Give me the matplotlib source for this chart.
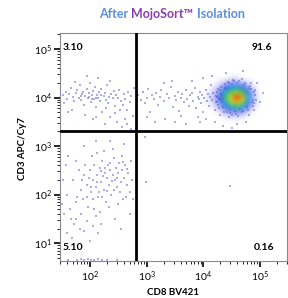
import numpy as np
import matplotlib
matplotlib.use("Agg")
import matplotlib.pyplot as plt
from matplotlib.colors import LinearSegmentedColormap
from matplotlib.offsetbox import TextArea, HPacker, AnchoredOffsetbox

# ── data (log10 units) ────────────────────────────────────────────────
# upper-left quadrant events (CD3+ CD8-)
ul_x = [1.52, 1.58, 1.60, 1.63, 1.66, 1.70, 1.72, 1.75, 1.77, 1.80, 1.82, 1.84, 1.86, 1.88,
        1.90, 1.92, 1.94, 1.96, 1.98, 2.00, 2.02, 2.03, 2.05, 2.07, 2.09, 2.10, 2.12, 2.14,
        2.16, 2.18, 2.20, 2.22, 2.24, 2.26, 2.28, 2.30, 2.32, 2.34, 2.36, 2.38, 2.40, 2.42,
        2.44, 2.46, 2.48, 2.50, 2.52, 2.55, 2.57, 2.60, 2.62, 2.65, 2.68, 2.70, 2.73, 2.76,
        2.78, 1.55, 1.68, 1.74, 1.92, 2.06, 2.15, 2.27, 2.35, 2.45, 2.58, 2.66, 2.72, 1.62,
        1.95, 2.11, 2.29, 2.53, 2.61, 2.10, 1.98, 2.19, 2.04, 1.85]
ul_y = [4.05, 4.12, 3.98, 4.08, 4.20, 4.02, 3.92, 4.10, 4.15, 4.00, 4.25, 3.95, 4.07, 4.12,
        3.85, 4.03, 4.18, 3.99, 4.09, 4.30, 3.90, 4.05, 4.14, 3.97, 4.22, 3.80, 4.06, 4.00,
        4.11, 3.93, 4.17, 3.70, 4.04, 4.10, 3.96, 4.26, 3.88, 4.02, 3.60, 4.08, 3.99, 4.13,
        3.82, 4.05, 3.50, 4.00, 4.15, 3.92, 3.40, 4.07, 3.97, 3.75, 4.11, 3.90, 4.03, 3.62,
        4.20, 3.88, 3.75, 4.32, 3.65, 3.55, 4.40, 3.45, 4.35, 3.68, 3.85, 3.45, 3.35, 3.70,
        4.45, 3.60, 3.78, 3.75, 3.55, 4.00, 4.02, 4.06, 3.98, 4.03]

# upper-right quadrant events outside the dense core (CD3+ CD8+)
ur_x = [2.85, 2.90, 2.93, 2.97, 3.00, 3.03, 3.06, 3.10, 3.13, 3.16, 3.20, 3.23, 3.26, 3.30,
        3.33, 3.36, 3.40, 3.43, 3.46, 3.50, 3.52, 3.55, 3.58, 3.60, 3.63, 3.66, 3.69, 3.72,
        3.74, 3.77, 3.80, 3.82, 3.85, 3.87, 3.90, 3.92, 3.94, 3.96, 3.98, 4.00, 4.02, 4.04,
        4.06, 4.08, 4.10, 4.12, 4.14, 4.16, 4.18, 4.20, 4.22, 4.24, 4.26, 4.28, 4.30, 4.32,
        3.00, 3.30, 3.50, 3.70, 3.90, 4.05, 4.20, 4.35, 4.50, 4.60, 4.75, 3.15, 3.45, 3.80,
        4.00, 4.15, 4.95, 5.00, 5.05, 4.40, 4.70, 3.60, 3.95, 4.45, 4.35, 4.38, 4.42, 4.45,
        4.50, 4.55, 4.62, 4.68, 4.80, 4.85, 4.90, 4.92, 4.88, 4.30, 4.33, 4.37]
ur_y = [4.05, 3.95, 4.12, 3.88, 4.00, 4.18, 3.70, 4.06, 3.97, 4.10, 3.85, 4.02, 4.15, 3.93,
        3.55, 4.08, 3.99, 4.22, 3.80, 4.04, 3.95, 4.12, 3.72, 4.00, 4.07, 3.90, 4.16, 3.98,
        3.83, 4.05, 4.10, 3.93, 4.20, 3.78, 4.02, 3.97, 4.12, 3.88, 4.06, 3.70, 4.00, 4.15,
        3.92, 4.08, 3.82, 4.02, 4.25, 3.95, 4.10, 3.75, 4.04, 3.90, 4.18, 3.98, 3.65, 4.08,
        3.60, 4.30, 3.50, 3.45, 3.60, 3.55, 3.50, 3.42, 3.38, 3.45, 3.50, 3.50, 4.35, 4.35,
        4.40, 4.45, 4.30, 3.90, 4.10, 4.50, 4.55, 3.62, 3.50, 3.60, 3.80, 4.20, 3.70, 4.30,
        3.65, 4.35, 3.62, 4.38, 3.65, 4.30, 3.75, 4.15, 3.95, 4.00, 3.90, 4.10]

# speckled events on the rim of the dense core
rim_x = [4.22, 4.25, 4.28, 4.31, 4.34, 4.36, 4.39, 4.41, 4.44, 4.47, 4.52, 4.57, 4.63, 4.69,
         4.74, 4.79, 4.83, 4.87, 4.91, 4.93, 4.24, 4.29, 4.33, 4.40, 4.48, 4.56, 4.64, 4.72,
         4.78, 4.84, 4.89, 4.26, 4.30, 4.35, 4.90, 4.86, 4.80, 4.50, 4.60, 4.70]
rim_y = [3.90, 4.12, 3.78, 4.22, 3.95, 3.70, 4.28, 3.86, 4.32, 3.68, 4.36, 3.66, 4.34, 3.70,
         4.30, 3.74, 4.24, 3.82, 4.06, 3.96, 4.02, 3.94, 4.06, 4.18, 3.75, 3.72, 3.76, 4.26,
         3.80, 4.18, 3.88, 3.85, 4.15, 3.98, 4.12, 3.90, 4.20, 4.28, 4.30, 3.72]

# lower-left quadrant events (CD3- CD8-)
ll_x = [1.90, 1.95, 2.00, 2.02, 2.05, 2.08, 2.10, 2.12, 2.15, 2.17, 2.20, 2.22, 2.24, 2.26,
        2.28, 2.30, 2.32, 2.34, 2.36, 2.38, 2.40, 2.42, 2.44, 2.46, 2.48, 2.50, 2.52, 2.54,
        2.56, 2.58, 2.60, 2.62, 2.65, 2.68, 2.70, 1.85, 1.88, 1.92, 1.97, 2.03, 2.07, 2.13,
        2.18, 2.25, 2.33, 2.40, 2.50, 2.57, 2.63, 2.72, 2.75, 1.60, 1.65, 1.70, 1.75, 1.78,
        1.80, 1.82, 1.55, 1.60, 1.68, 1.72, 1.85, 1.90, 1.95, 2.00, 2.05, 2.10, 2.15, 2.20,
        1.52, 1.58, 1.62, 1.75, 1.90, 2.10, 2.35, 2.60, 2.45, 2.55, 2.70, 2.76, 1.50, 1.66,
        1.76, 1.86, 1.94, 1.98, 2.06, 2.16, 2.23, 2.30, 2.36, 2.43, 2.47, 2.53, 2.59, 2.66,
        2.12, 2.27, 2.39, 2.21, 2.01, 2.19]
ll_y = [2.40, 2.20, 2.50, 2.05, 2.30, 2.60, 2.15, 2.40, 1.95, 2.55, 2.25, 2.70, 2.10, 2.45,
        1.85, 2.35, 2.60, 2.20, 2.50, 2.00, 2.40, 2.75, 2.30, 2.55, 2.15, 2.45, 2.65, 2.25,
        2.50, 1.90, 2.35, 2.60, 2.20, 2.45, 2.05, 2.10, 1.90, 2.60, 1.75, 2.80, 1.70, 2.85,
        1.65, 2.90, 1.75, 2.95, 1.80, 2.80, 1.95, 2.70, 2.30, 2.00, 1.70, 2.30, 1.50, 1.95,
        2.50, 1.30, 1.60, 1.20, 1.10, 1.40, 1.60, 1.25, 1.45, 1.05, 1.35, 1.55, 1.20, 1.40,
        2.30, 2.60, 2.80, 2.70, 3.00, 3.10, 3.10, 3.05, 1.50, 1.30, 1.60, 1.90, 1.80, 1.50,
        1.85, 2.30, 1.95, 2.35, 1.90, 2.05, 2.38, 2.08, 2.65, 2.10, 2.35, 2.05, 2.68, 2.52,
        2.25, 2.55, 2.28, 1.95, 2.15, 2.48]

# events piled up on the bottom of the scale
floor_x = [1.62, 1.78, 1.84, 1.90, 1.96, 2.02, 2.08, 2.15, 2.22, 2.30, 2.48]
floor_y = [0.66, 0.66, 0.67, 0.66, 0.67, 0.66, 0.66, 0.67, 0.66, 0.66, 0.66]

# lower-right quadrant events (CD3- CD8+)
lr_x = [2.99, 4.47, 2.97]
lr_y = [2.26, 2.18, 3.19]

# relative density of the CD8+ T cell core on a coarse grid
core_x = [4.1, 4.2, 4.3, 4.4, 4.5, 4.6, 4.7, 4.8, 4.9, 5.0]
core_y = [3.6, 3.7, 3.8, 3.9, 4.0, 4.1, 4.2, 4.3, 4.4]
core_d = [
    [0.00, 0.00, 0.00, 0.04, 0.06, 0.06, 0.05, 0.00, 0.00, 0.00],
    [0.00, 0.00, 0.05, 0.12, 0.18, 0.20, 0.16, 0.08, 0.00, 0.00],
    [0.00, 0.05, 0.12, 0.30, 0.45, 0.52, 0.44, 0.22, 0.06, 0.00],
    [0.03, 0.08, 0.20, 0.46, 0.68, 0.82, 0.68, 0.36, 0.10, 0.00],
    [0.04, 0.10, 0.25, 0.52, 0.77, 1.00, 0.80, 0.42, 0.12, 0.00],
    [0.03, 0.08, 0.20, 0.44, 0.60, 0.68, 0.58, 0.33, 0.10, 0.00],
    [0.00, 0.04, 0.10, 0.25, 0.36, 0.40, 0.31, 0.16, 0.04, 0.00],
    [0.00, 0.00, 0.04, 0.10, 0.14, 0.14, 0.10, 0.05, 0.00, 0.00],
    [0.00, 0.00, 0.00, 0.00, 0.03, 0.03, 0.00, 0.00, 0.00, 0.00],
]

quad_pct = ["3.10", "91.6", "5.10", "0.16"]
x_gate = 2.81   # log10 CD8 BV421
y_gate = 3.31   # log10 CD3 APC/Cy7
x_dec = [2, 3, 4, 5]
y_dec = [1, 2, 3, 4, 5]

# ── figure ────────────────────────────────────────────────────────────
plt.rcParams["font.family"] = ["Lato", "DejaVu Sans"]
plt.rcParams["mathtext.fontset"] = "custom"
plt.rcParams["mathtext.rm"] = "Lato"
plt.rcParams["mathtext.it"] = "Lato"
fig = plt.figure(figsize=(2.88, 2.98), dpi=100)
ax = fig.add_axes([0.208, 0.124, 0.789, 0.765])
ax.set_xlim(1.47, 5.48)
ax.set_ylim(0.63, 5.33)

dot = "#5a5ad0"
for xs, ys in [(ul_x, ul_y), (ur_x, ur_y), (rim_x, rim_y), (ll_x, ll_y),
               (floor_x, floor_y), (lr_x, lr_y)]:
    ax.scatter(xs, ys, s=1.8, marker="s", color=dot, alpha=0.5, linewidths=0, zorder=2)

# pseudocolor core
cmap = LinearSegmentedColormap.from_list(
    "flowjo", [(0.0, "#6a6ad8"), (0.25, "#2440f4"), (0.42, "#10b4f0"),
               (0.56, "#34d040"), (0.74, "#e6e622"), (0.88, "#ff8a10"),
               (1.0, "#e82010")])
d = np.pad(np.array(core_d), 1)
rgba = cmap(d)
rgba[..., 3] = np.clip(d / 0.3, 0, 1) ** 0.9
dx = (core_x[1] - core_x[0])
dy = (core_y[1] - core_y[0])
ax.imshow(rgba, origin="lower", interpolation="bicubic", aspect="auto",
          extent=[core_x[0] - 1.5 * dx, core_x[-1] + 1.5 * dx,
                  core_y[0] - 1.5 * dy, core_y[-1] + 1.5 * dy],
          zorder=3)

# quadrant gates
ax.axvline(x_gate, color="black", lw=2, zorder=4)
ax.axhline(y_gate, color="black", lw=2, zorder=4)

# quadrant percentages
kw = dict(fontsize=7.5, fontweight="bold", color="black", zorder=5)
ax.text(1.52, 5.04, quad_pct[0], ha="left", va="center", **kw)
ax.text(5.22, 5.04, quad_pct[1], ha="right", va="center", **kw)
ax.text(1.52, 0.90, quad_pct[2], ha="left", va="center", **kw)
ax.text(5.25, 0.90, quad_pct[3], ha="right", va="center", **kw)

# log-like ticks
ax.set_xticks(x_dec)
ax.set_xticklabels([f"$10^{{{n}}}$" for n in x_dec])
ax.set_yticks(y_dec)
ax.set_yticklabels([f"$10^{{{n}}}$" for n in y_dec])
minor = np.log10(np.arange(2, 10))
ax.set_xticks([n + m for n in range(1, 6) for m in minor if 1.47 < n + m < 5.48], minor=True)
ax.set_yticks([n + m for n in range(0, 6) for m in minor if 0.63 < n + m < 5.33], minor=True)
ax.tick_params(which="major", length=4, width=1.2, labelsize=7.5, pad=2)
ax.tick_params(which="minor", length=2, width=0.6)
for s in ax.spines.values():
    s.set_color("#8a8a8a")
    s.set_linewidth(0.8)

fig.text(0.078, 0.5, "CD3 APC/Cy7", rotation=90, ha="center", va="center",
         fontsize=7, fontweight="bold")
fig.text(0.6, 0.017, "CD8 BV421", ha="center", va="center",
         fontsize=7, fontweight="bold")

# title with coloured words
blue, purple = "#5b8fd6", "#8a3fa8"
tp = dict(fontsize=9, fontweight="bold")
parts = [TextArea("After ", textprops=dict(color=blue, **tp)),
         TextArea("MojoSort\u2122", textprops=dict(color=purple, **tp)),
         TextArea(" Isolation", textprops=dict(color=blue, **tp))]
box = HPacker(children=parts, align="baseline", pad=0, sep=0)
anchored = AnchoredOffsetbox(loc="center", child=box, frameon=False, pad=0,
                             bbox_to_anchor=(0.597, 0.953), bbox_transform=fig.transFigure)
fig.add_artist(anchored)

fig.savefig("out.png", dpi=100)
